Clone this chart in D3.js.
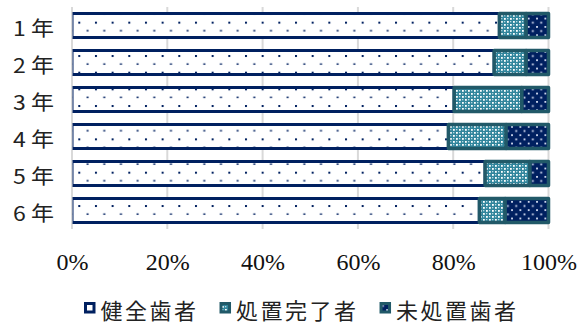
<!DOCTYPE html>
<html>
<head>
<meta charset="utf-8">
<script src="https://cdn.jsdelivr.net/npm/d3@7"></script>
<style>
  html, body { margin: 0; padding: 0; background: #ffffff; }
  svg { display: block; }
</style>
</head>
<body>
<script>
// Grades and the share of pupils (%) in each dental status group
const grades = ["1 年", "2 年", "3 年", "4 年", "5 年", "6 年"];
const healthy   = [89.7, 88.6, 80.2, 79.0, 86.7, 85.5];   // 健全歯者
const treated   = [5.6, 6.7, 14.2, 12.1, 9.4, 5.4];       // 処置完了者
const untreated = [4.7, 4.7, 5.6, 8.9, 3.9, 9.1];         // 未処置歯者
const seriesNames = ["健全歯者", "処置完了者", "未処置歯者"];
const tickValues = [0, 20, 40, 60, 80, 100];

const W = 581, H = 323;
const NAVY = "#002060", TEAL_DARK = "#215968", TEAL = "#31859c";
const SERIF = "'Liberation Serif', 'DejaVu Serif', serif";
const CJK = "'Noto Sans CJK JP', 'Noto Sans', sans-serif";

const svg = d3.select("body").append("svg").attr("width", W).attr("height", H);
const defs = svg.append("defs");

// Fill patterns
const pHealthy = defs.append("pattern").attr("id", "pat-healthy")
  .attr("patternUnits", "userSpaceOnUse").attr("width", 16.67).attr("height", 16.67)
  .attr("patternTransform", "translate(11.6,5)");
pHealthy.append("rect").attr("width", 16.67).attr("height", 16.67).attr("fill", "#ffffff");
pHealthy.append("rect").attr("x", 0).attr("y", 0).attr("width", 2).attr("height", 2).attr("fill", NAVY);
pHealthy.append("rect").attr("x", 8.33).attr("y", 8.33).attr("width", 2).attr("height", 1.5).attr("fill", NAVY);

const pTreated = defs.append("pattern").attr("id", "pat-treated")
  .attr("patternUnits", "userSpaceOnUse").attr("width", 6).attr("height", 6);
pTreated.append("rect").attr("width", 6).attr("height", 6).attr("fill", TEAL);
pTreated.append("rect").attr("x", 0).attr("y", 0).attr("width", 1.8).attr("height", 1.8).attr("fill", "#ffffff");
pTreated.append("rect").attr("x", 3).attr("y", 3).attr("width", 1.8).attr("height", 1.8).attr("fill", "#ffffff");
pTreated.append("rect").attr("x", 3).attr("y", 0).attr("width", 1.3).attr("height", 1.3).attr("fill", "#b5dce5");
pTreated.append("rect").attr("x", 0).attr("y", 3).attr("width", 1.3).attr("height", 1.3).attr("fill", "#b5dce5");

const pUntreated = defs.append("pattern").attr("id", "pat-untreated")
  .attr("patternUnits", "userSpaceOnUse").attr("width", 8.33).attr("height", 8.33)
  .attr("patternTransform", "translate(3,1)");
pUntreated.append("rect").attr("width", 8.33).attr("height", 8.33).attr("fill", NAVY);
pUntreated.append("rect").attr("x", 0).attr("y", 0).attr("width", 1.8).attr("height", 1.8).attr("fill", "#d4dcf0");
pUntreated.append("rect").attr("x", 4.17).attr("y", 4.17).attr("width", 1.8).attr("height", 1.8).attr("fill", "#d4dcf0");

const x = d3.scaleLinear().domain([0, 100]).range([72, 548.5]);
const y = d3.scaleBand().domain(grades).range([7, 229]).paddingInner(0.35).paddingOuter(0.175);

// Vertical gridlines
svg.append("g").selectAll("line").data(tickValues).join("line")
  .attr("x1", d => x(d)).attr("x2", d => x(d))
  .attr("y1", 7).attr("y2", 229)
  .attr("stroke", "#d9d9d9").attr("stroke-width", 2);

// Stacked segments
const rows = grades.map((g, i) => ({ g, vals: [healthy[i], treated[i], untreated[i]] }));
const fills = ["url(#pat-healthy)", "url(#pat-treated)", "url(#pat-untreated)"];
const strokes = [NAVY, TEAL_DARK, TEAL_DARK];
const strokeW = [3, 3.5, 3.5];

defs.append("clipPath").attr("id", "plot-clip")
  .append("rect").attr("x", 72.5).attr("y", 0).attr("width", W).attr("height", H);

const bars = svg.append("g").attr("clip-path", "url(#plot-clip)");
rows.forEach(r => {
  let acc = 0;
  r.vals.forEach((v, k) => {
    bars.append("rect")
      .attr("x", x(acc))
      .attr("y", y(r.g))
      .attr("width", x(acc + v) - x(acc))
      .attr("height", y.bandwidth())
      .attr("fill", fills[k])
      .attr("stroke", strokes[k])
      .attr("stroke-width", strokeW[k])
      .attr("stroke-linejoin", "round");
    acc += v;
  });
});

// Category labels
svg.append("g").selectAll("text").data(grades).join("text")
  .attr("transform", d => `translate(54,${y(d) + y.bandwidth() / 2 + 10.8}) scale(1.15,1)`)
  .attr("text-anchor", "end")
  .style("font-family", CJK)
  .style("font-size", "20px")
  .style("fill", "#222")
  .text(d => d);

// Percent axis labels
const xAxis = d3.axisBottom(x).tickValues(tickValues).tickFormat(d => d + "%").tickSize(0).tickPadding(0);
const ax = svg.append("g").attr("transform", "translate(0,252)").call(xAxis);
ax.select(".domain").remove();
ax.selectAll("text")
  .attr("dy", null).attr("y", 18)
  .style("font-family", SERIF)
  .style("font-size", "24px")
  .style("fill", "#111");

// Legend
const legend = svg.append("g");
let lx = 84;
seriesNames.forEach((name, k) => {
  legend.append("rect")
    .attr("x", lx + 1.5).attr("y", 303.5).attr("width", 8.5).attr("height", 8.5)
    .attr("fill", k === 0 ? "#ffffff" : fills[k])
    .attr("stroke", k === 0 ? NAVY : strokes[k]).attr("stroke-width", 3);
  const t = legend.append("text")
    .attr("x", lx + 16.5).attr("y", 318.5)
    .style("font-family", CJK)
    .style("font-size", "22px")
    .style("fill", "#222")
    .attr("letter-spacing", 2.5)
    .text(name);
  lx += 16.5 + t.node().getComputedTextLength() + 21;
});
</script>
</body>
</html>
